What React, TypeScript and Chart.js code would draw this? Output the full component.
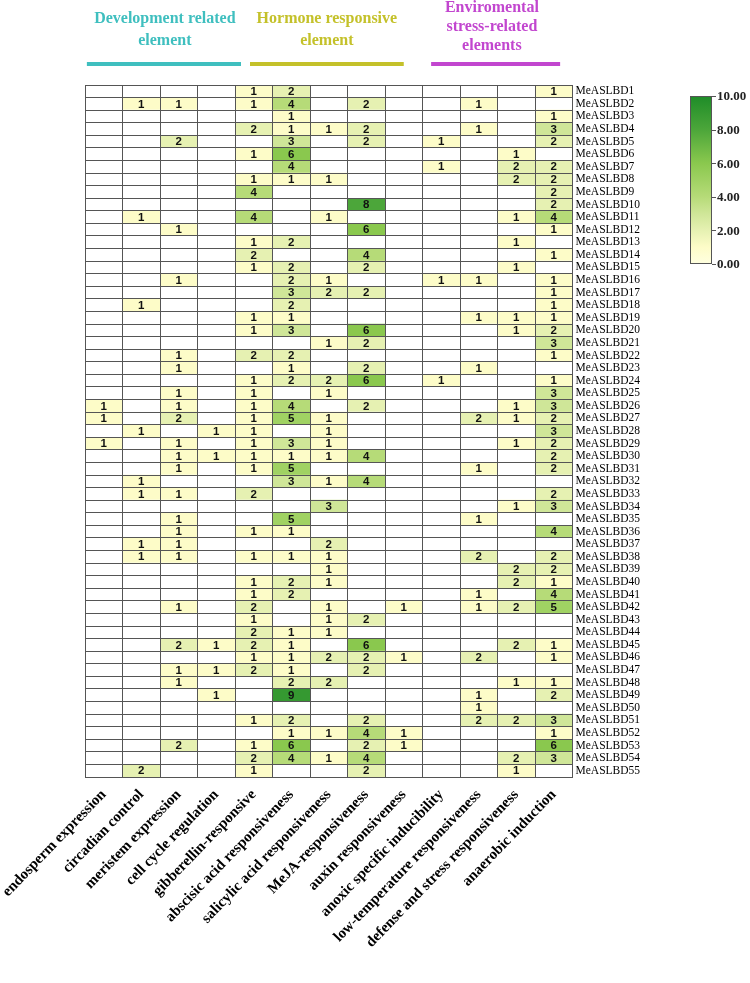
import { useEffect, useRef } from "react";
import { Chart, registerables } from "chart.js";

Chart.register(...registerables);

const categories = [
  "endosperm expression",
  "circadian control",
  "meristem expression",
  "cell cycle regulation",
  "gibberellin-responsive",
  "abscisic acid responsiveness",
  "salicylic acid responsiveness",
  "MeJA-responsiveness",
  "auxin responsiveness",
  "anoxic specific inducibility",
  "low-temperature responsiveness",
  "defense and stress responsiveness",
  "anaerobic induction",
];

const genes = Array.from({ length: 55 }, (_, i) => `MeASLBD${i + 1}`);

// one array per column (element), 55 genes each (MeASLBD1..MeASLBD55)
const endosperm = [
  0,0,0,0,0,0,0,0,0,0, 0,0,0,0,0,0,0,0,0,0, 0,0,0,0,0,1,1,0,1,0,
  0,0,0,0,0,0,0,0,0,0, 0,0,0,0,0,0,0,0,0,0, 0,0,0,0,0,
];
const circadian = [
  0,1,0,0,0,0,0,0,0,0, 1,0,0,0,0,0,0,1,0,0, 0,0,0,0,0,0,0,1,0,0,
  0,1,1,0,0,0,1,1,0,0, 0,0,0,0,0,0,0,0,0,0, 0,0,0,0,2,
];
const meristem = [
  0,1,0,0,2,0,0,0,0,0, 0,1,0,0,0,1,0,0,0,0, 0,1,1,0,1,1,2,0,1,1,
  1,0,1,0,1,1,1,1,0,0, 0,1,0,0,2,0,1,1,0,0, 0,0,2,0,0,
];
const cellCycle = [
  0,0,0,0,0,0,0,0,0,0, 0,0,0,0,0,0,0,0,0,0, 0,0,0,0,0,0,0,1,0,1,
  0,0,0,0,0,0,0,0,0,0, 0,0,0,0,1,0,1,0,1,0, 0,0,0,0,0,
];
const gibberellin = [
  1,1,0,2,0,1,0,1,4,0, 4,0,1,2,1,0,0,0,1,1, 0,2,0,1,1,1,1,1,1,1,
  1,0,2,0,0,1,0,1,0,1, 1,2,1,2,2,1,2,0,0,0, 1,0,1,2,1,
];
const abscisic = [
  2,4,1,1,3,6,4,1,0,0, 0,0,2,0,2,2,3,2,1,3, 0,2,1,2,0,4,5,0,3,1,
  5,3,0,0,5,1,0,1,0,2, 2,0,0,1,1,1,1,2,9,0, 2,1,6,4,0,
];
const salicylic = [
  0,0,0,1,0,0,0,1,0,0, 1,0,0,0,0,1,2,0,0,0, 1,0,0,2,1,0,1,1,1,1,
  0,1,0,3,0,0,2,1,1,1, 0,1,1,1,0,2,0,2,0,0, 0,1,0,1,0,
];
const meja = [
  0,2,0,2,2,0,0,0,0,8, 0,6,0,4,2,0,2,0,0,6, 2,0,2,6,0,2,0,0,0,4,
  0,4,0,0,0,0,0,0,0,0, 0,0,2,0,6,2,2,0,0,0, 2,4,2,4,2,
];
const auxin = [
  0,0,0,0,0,0,0,0,0,0, 0,0,0,0,0,0,0,0,0,0, 0,0,0,0,0,0,0,0,0,0,
  0,0,0,0,0,0,0,0,0,0, 0,1,0,0,0,1,0,0,0,0, 0,1,1,0,0,
];
const anoxic = [
  0,0,0,0,1,0,1,0,0,0, 0,0,0,0,0,1,0,0,0,0, 0,0,0,1,0,0,0,0,0,0,
  0,0,0,0,0,0,0,0,0,0, 0,0,0,0,0,0,0,0,0,0, 0,0,0,0,0,
];
const lowTemp = [
  0,1,0,1,0,0,0,0,0,0, 0,0,0,0,0,1,0,0,1,0, 0,0,1,0,0,0,2,0,0,0,
  1,0,0,0,1,0,0,2,0,0, 1,1,0,0,0,2,0,0,1,1, 2,0,0,0,0,
];
const defense = [
  0,0,0,0,0,1,2,2,0,0, 1,0,1,0,1,0,0,0,1,1, 0,0,0,0,0,1,1,0,1,0,
  0,0,0,1,0,0,0,0,2,2, 0,2,0,0,2,0,0,1,0,0, 2,0,0,2,1,
];
const anaerobic = [
  1,0,1,3,2,0,2,2,2,2, 4,1,0,1,0,1,1,1,1,2, 3,1,0,1,3,3,2,3,2,2,
  2,0,2,3,0,4,0,2,2,1, 4,5,0,0,1,1,0,1,2,0, 3,1,6,3,0,
];

const columns = [
  endosperm, circadian, meristem, cellCycle, gibberellin, abscisic, salicylic,
  meja, auxin, anoxic, lowTemp, defense, anaerobic,
];

const legendTicks = [0, 2, 4, 6, 8, 10];

const groups = [
  { lines: ["Development related", "element"], color: "#3fbfbf", from: 0.05, to: 4.16, center: 2.13, top: 19 },
  { lines: ["Hormone responsive", "element"], color: "#c4c12a", from: 4.4, to: 8.5, center: 6.45, top: 19 },
  { lines: ["Enviromental", "stress-related", "elements"], color: "#c246cf", from: 9.23, to: 12.67, center: 10.85, top: 8 },
];

const STOPS: [number, number[]][] = [
  [0, [255, 255, 224]],
  [1, [253, 252, 200]],
  [2, [230, 241, 178]],
  [3, [207, 230, 152]],
  [4, [182, 219, 120]],
  [6, [138, 200, 78]],
  [8, [76, 166, 58]],
  [10, [30, 140, 40]],
];

function rampColor(v: number): string {
  for (let i = 0; i < STOPS.length - 1; i++) {
    const [a, ca] = STOPS[i];
    const [b, cb] = STOPS[i + 1];
    if (v <= b) {
      const t = (v - a) / (b - a);
      const c = ca.map((x, k) => Math.round(x + (cb[k] - x) * t));
      return `rgb(${c[0]},${c[1]},${c[2]})`;
    }
  }
  const c = STOPS[STOPS.length - 1][1];
  return `rgb(${c[0]},${c[1]},${c[2]})`;
}

function cellColor(v: number): string {
  return v > 0 ? rampColor(v) : "#ffffff";
}

const SERIF = "'Liberation Serif', 'Times New Roman', serif";
const SANS = "'Liberation Sans', Arial, sans-serif";

const overlayPlugin = {
  id: "overlay",
  afterDraw(chart: any) {
    const ctx = chart.ctx as CanvasRenderingContext2D;
    const xs = chart.scales.x;
    ctx.save();

    // cell values
    ctx.font = `bold 11.5px ${SANS}`;
    ctx.textAlign = "center";
    ctx.textBaseline = "middle";
    ctx.fillStyle = "#111";
    chart.data.datasets.forEach((ds: any, di: number) => {
      const meta = chart.getDatasetMeta(di);
      const vals = columns[di];
      meta.data.forEach((el: any, i: number) => {
        const v = vals[i];
        if (!v) return;
        const p = el.getCenterPoint();
        ctx.fillText(String(v), p.x, p.y + 0.5);
      });
    });

    // group titles and bars
    groups.forEach((g) => {
      ctx.fillStyle = g.color;
      ctx.font = `bold 16px ${SERIF}`;
      ctx.textAlign = "center";
      ctx.textBaseline = "middle";
      const cx = xs.getPixelForValue(g.center);
      const step = g.lines.length === 3 ? 19 : 22;
      g.lines.forEach((t, i) => ctx.fillText(t, cx, g.top + i * step));
      const x0 = xs.getPixelForValue(g.from);
      const x1 = xs.getPixelForValue(g.to);
      ctx.fillRect(x0, 62, x1 - x0, 4);
    });

    // colour bar
    const bx = 690, bw = 22, by = 96, bh = 168;
    const grad = ctx.createLinearGradient(0, by + bh, 0, by);
    STOPS.forEach(([v, c]) => grad.addColorStop(v / 10, `rgb(${c[0]},${c[1]},${c[2]})`));
    ctx.fillStyle = grad;
    ctx.fillRect(bx, by, bw, bh);
    ctx.strokeStyle = "#555";
    ctx.lineWidth = 1;
    ctx.strokeRect(bx + 0.5, by + 0.5, bw - 1, bh - 1);
    ctx.fillStyle = "#222";
    ctx.font = `bold 13px ${SERIF}`;
    ctx.textAlign = "left";
    ctx.textBaseline = "middle";
    legendTicks.forEach((t) => {
      const y = by + bh - (t / 10) * bh;
      ctx.beginPath();
      ctx.moveTo(bx + bw, Math.round(y) + 0.5);
      ctx.lineTo(bx + bw + 4, Math.round(y) + 0.5);
      ctx.stroke();
      ctx.fillText(t.toFixed(2), bx + bw + 5, y + 1);
    });

    ctx.restore();
  },
};

export default function App() {
  const ref = useRef<HTMLCanvasElement>(null);

  useEffect(() => {
    if (!ref.current) return;
    const chart = new Chart(ref.current, {
      type: "bar",
      data: {
        labels: genes,
        datasets: columns.map((col, c) => ({
          label: categories[c],
          data: col.map(() => [c, c + 1]),
          backgroundColor: (ctx: any) => cellColor(col[ctx.dataIndex]),
          borderWidth: 0,
          barPercentage: 1,
          categoryPercentage: 1,
          grouped: false,
        })),
      },
      options: {
        indexAxis: "y",
        responsive: false,
        animation: false,
        layout: { padding: { top: 85, left: 85, right: 0, bottom: 0 } },
        plugins: {
          legend: { display: false },
          tooltip: { enabled: false },
        },
        scales: {
          x: {
            type: "linear",
            position: "bottom",
            min: 0,
            max: 13,
            afterBuildTicks: (scale: any) => {
              scale.ticks = categories.map((_, i) => ({ value: i + 0.5 }));
            },
            afterFit: (scale: any) => {
              scale.height = 206;
              scale.paddingLeft = 0;
              scale.paddingRight = 0;
            },
            grid: {
              offset: true,
              z: 1,
              color: "#555555",
              lineWidth: 1,
              drawTicks: false,
            },
            border: { display: false },
            ticks: {
              autoSkip: false,
              minRotation: 46,
              maxRotation: 46,
              padding: 9,
              color: "#000",
              font: { family: SERIF, weight: "bold", size: 15 },
              callback: (_v: any, i: number) => categories[i],
            },
          },
          y: {
            type: "category",
            position: "right",
            offset: true,
            afterFit: (scale: any) => {
              scale.width = 177.5;
            },
            grid: {
              offset: true,
              z: 1,
              color: "#555555",
              lineWidth: 1,
              drawTicks: false,
            },
            border: { display: false },
            ticks: {
              autoSkip: false,
              padding: 3,
              color: "#000",
              font: { family: SERIF, size: 11.5 },
            },
          },
        },
      },
      plugins: [overlayPlugin],
    } as any);
    return () => chart.destroy();
  }, []);

  return (
    <div style={{ position: "absolute", left: 0, top: 0, width: 750, height: 983, background: "#fff" }}>
      <canvas ref={ref} width={750} height={983} />
    </div>
  );
}
